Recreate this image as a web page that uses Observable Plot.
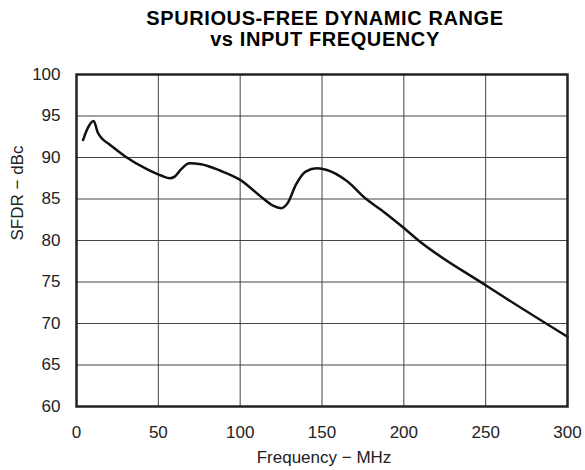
<!DOCTYPE html>
<html>
<head>
<meta charset="utf-8">
<script src="https://cdn.jsdelivr.net/npm/d3@7"></script>
<script src="https://cdn.jsdelivr.net/npm/@observablehq/plot@0.6"></script>
<style>
  html, body { margin: 0; padding: 0; background: #fff; }
  #wrap { position: relative; width: 585px; height: 470px; overflow: hidden; }
  #title {
    position: absolute; left: 40px; top: 8px; width: 570px;
    text-align: center; font-family: "Liberation Sans", Arial, sans-serif;
    font-weight: bold; font-size: 20px; line-height: 21px; letter-spacing: 0.6px; color: #000;
  }
</style>
</head>
<body>
<div id="wrap">
  <div id="title"></div>
  <div id="chart"></div>
</div>
<script>
const titleLines = ["SPURIOUS-FREE DYNAMIC RANGE", "vs INPUT FREQUENCY"];
const xLabel = "Frequency − MHz";
const yLabel = "SFDR − dBc";
const xTicks = [0, 50, 100, 150, 200, 250, 300];
const yTicks = [60, 65, 70, 75, 80, 85, 90, 95, 100];
const freq = [4, 7, 10.5, 13, 16, 20, 30, 43, 52, 57, 60, 64, 69, 76, 88, 100, 112, 120, 125, 129, 134, 140, 147, 153, 165, 177, 186, 200, 209, 250, 300];
const sfdr = [92.1, 93.6, 94.4, 93.0, 92.2, 91.6, 90.1, 88.6, 87.8, 87.5, 87.7, 88.6, 89.3, 89.2, 88.4, 87.3, 85.4, 84.2, 83.9, 84.5, 86.7, 88.3, 88.7, 88.5, 87.2, 85.0, 83.7, 81.5, 80.0, 74.6, 68.4];

const titleEl = document.getElementById("title");
titleLines.forEach(t => { const d = document.createElement("div"); d.textContent = t; titleEl.appendChild(d); });

const data = freq.map((f, i) => ({f, v: sfdr[i]}));
const font = "\"Liberation Sans\", Arial, sans-serif";

const chart = Plot.plot({
  width: 585,
  height: 470,
  marginTop: 74,
  marginLeft: 76,
  marginRight: 18,
  marginBottom: 64,
  style: {fontFamily: font, fontSize: "17px", color: "#222", background: "#fff"},
  x: {domain: [0, 300], ticks: xTicks},
  y: {domain: [60, 100], ticks: yTicks},
  marks: [
    Plot.gridX(xTicks, {stroke: "#444", strokeOpacity: 1, strokeWidth: 1}),
    Plot.gridY(yTicks, {stroke: "#444", strokeOpacity: 1, strokeWidth: 1}),
    Plot.axisX(xTicks, {tickSize: 0, tickPadding: 19, label: null, fontSize: 17}),
    Plot.axisY(yTicks, {tickSize: 0, tickPadding: 16, label: null, fontSize: 17}),
    Plot.line(data, {x: "f", y: "v", stroke: "#111", strokeWidth: 2.5, curve: "monotone-x"}),
    Plot.frame({stroke: "#222", strokeWidth: 2.5}),
    Plot.text([xLabel], {frameAnchor: "bottom", lineAnchor: "bottom", dy: 56, dx: 2, fontSize: 17, fill: "#222"}),
    Plot.text([yLabel], {frameAnchor: "left", rotate: -90, lineAnchor: "middle", dx: -59, fontSize: 17, fill: "#222"})
  ]
});
document.getElementById("chart").appendChild(chart);
</script>
</body>
</html>
